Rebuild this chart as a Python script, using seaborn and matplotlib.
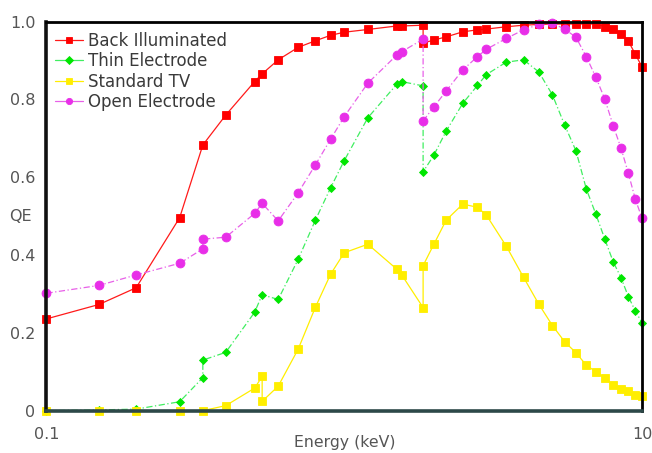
import matplotlib
matplotlib.use("Agg")
import matplotlib.pyplot as plt
import seaborn as sns
import pandas as pd
from matplotlib.ticker import FixedLocator, FixedFormatter, NullLocator

# Quantum efficiency vs photon energy for four CCD types
back_energy = [0.1, 0.15, 0.2, 0.28, 0.335, 0.4, 0.5, 0.53, 0.6, 0.7, 0.8, 0.9, 1.0,
               1.2, 1.5, 1.56, 1.84, 1.84, 2.0, 2.2, 2.5, 2.8, 3.0, 3.5, 4.0, 4.5,
               5.0, 5.5, 6.0, 6.5, 7.0, 7.5, 8.0, 8.5, 9.0, 9.5, 10.0]
back_qe = [0.236, 0.273, 0.316, 0.496, 0.683, 0.760, 0.846, 0.866, 0.902, 0.934, 0.951,
           0.965, 0.973, 0.980, 0.989, 0.989, 0.991, 0.945, 0.953, 0.961, 0.974, 0.979,
           0.981, 0.987, 0.991, 0.993, 0.994, 0.994, 0.994, 0.994, 0.994, 0.987, 0.981,
           0.968, 0.950, 0.916, 0.884]

thin_energy = [0.1, 0.15, 0.2, 0.28, 0.335, 0.335, 0.4, 0.5, 0.53, 0.6, 0.7, 0.8, 0.9,
               1.0, 1.2, 1.5, 1.56, 1.84, 1.84, 2.0, 2.2, 2.5, 2.8, 3.0, 3.5, 4.0, 4.5,
               5.0, 5.5, 6.0, 6.5, 7.0, 7.5, 8.0, 8.5, 9.0, 9.5, 10.0]
thin_qe = [0.0, 0.002, 0.004, 0.023, 0.085, 0.130, 0.150, 0.253, 0.298, 0.286, 0.389,
           0.490, 0.573, 0.643, 0.753, 0.839, 0.846, 0.835, 0.614, 0.657, 0.719, 0.790,
           0.836, 0.864, 0.896, 0.902, 0.871, 0.812, 0.734, 0.668, 0.570, 0.505, 0.441,
           0.383, 0.342, 0.293, 0.256, 0.226]

tv_energy = [0.1, 0.15, 0.2, 0.28, 0.335, 0.4, 0.5, 0.53, 0.53, 0.6, 0.7, 0.8, 0.9,
             1.0, 1.2, 1.5, 1.56, 1.84, 1.84, 2.0, 2.2, 2.5, 2.8, 3.0, 3.5, 4.0, 4.5,
             5.0, 5.5, 6.0, 6.5, 7.0, 7.5, 8.0, 8.5, 9.0, 9.5, 10.0]
tv_qe = [0.0, 0.0, 0.0, 0.0, 0.0, 0.013, 0.058, 0.088, 0.024, 0.063, 0.158, 0.266,
         0.351, 0.406, 0.428, 0.364, 0.349, 0.265, 0.373, 0.428, 0.490, 0.531, 0.523,
         0.503, 0.423, 0.343, 0.274, 0.219, 0.177, 0.149, 0.117, 0.100, 0.083, 0.066,
         0.057, 0.050, 0.041, 0.038]

open_energy = [0.1, 0.15, 0.2, 0.28, 0.335, 0.335, 0.4, 0.5, 0.53, 0.6, 0.7, 0.8, 0.9,
               1.0, 1.2, 1.5, 1.56, 1.84, 1.84, 2.0, 2.2, 2.5, 2.8, 3.0, 3.5, 4.0, 4.5,
               5.0, 5.5, 6.0, 6.5, 7.0, 7.5, 8.0, 8.5, 9.0, 9.5, 10.0]
open_qe = [0.302, 0.322, 0.349, 0.379, 0.416, 0.441, 0.446, 0.507, 0.533, 0.488, 0.560,
           0.632, 0.698, 0.756, 0.842, 0.914, 0.923, 0.955, 0.745, 0.781, 0.822, 0.876,
           0.910, 0.929, 0.957, 0.979, 0.993, 0.996, 0.981, 0.960, 0.910, 0.857, 0.801,
           0.733, 0.675, 0.610, 0.543, 0.495]

series_names = ["Back Illuminated", "Thin Electrode", "Standard TV", "Open Electrode"]
y_tick_values = [0.0, 0.2, 0.4, 0.6, 0.8, 1.0]
y_tick_labels = ["0", "0.2", "0.4", "0.6", "0.8", "1.0"]
x_tick_values = [0.1, 1.0, 10.0]
x_tick_labels = ["0.1", "", "10"]

sns.set_style("white")
plt.rcParams["font.family"] = ["DejaVu Sans"]

fig = plt.figure(figsize=(6.52, 4.53), dpi=100)
ax = fig.add_axes([0.0713, 0.0934, 0.9134, 0.8587])

styles = [
    dict(energy=back_energy, qe=back_qe, line="#ff1a1a", face="#ff0000", marker="s",
         ms=6.0, ls="-", lw=0.9),
    dict(energy=thin_energy, qe=thin_qe, line="#40ee60", face="#00e600", marker="D",
         ms=4.2, ls=(0, (5, 2, 1, 2)), lw=0.9),
    dict(energy=tv_energy, qe=tv_qe, line="#ffee00", face="#ffee00", marker="s",
         ms=5.3, ls="-", lw=0.9),
    dict(energy=open_energy, qe=open_qe, line="#e860e8", face="#e82ee8", marker="o",
         ms=6.4, ls=(0, (5, 2, 1, 2)), lw=0.9),
]

for name, st in zip(series_names, styles):
    df = pd.DataFrame({"Energy": st["energy"], "QE": st["qe"]})
    sns.lineplot(data=df, x="Energy", y="QE", sort=False, estimator=None, ax=ax,
                 color=st["line"], linewidth=st["lw"], linestyle=st["ls"],
                 marker=st["marker"], markersize=st["ms"],
                 markerfacecolor=st["face"], markeredgecolor=st["face"],
                 markeredgewidth=0.6, label=name, clip_on=False)

ax.set_xscale("log")
ax.set_xlim(0.1, 10)
ax.set_ylim(0, 1.0)

ax.xaxis.set_major_locator(FixedLocator(x_tick_values))
ax.xaxis.set_major_formatter(FixedFormatter(x_tick_labels))
ax.xaxis.set_minor_locator(NullLocator())
ax.yaxis.set_major_locator(FixedLocator(y_tick_values))
ax.yaxis.set_major_formatter(FixedFormatter(y_tick_labels))

ax.tick_params(axis="both", which="major", direction="in", length=5, width=1,
               color="#3f7480", labelcolor="#555555", labelsize=11.5)
ax.tick_params(axis="x", pad=12)
ax.tick_params(axis="y", pad=8)

for side in ["top", "right"]:
    ax.spines[side].set_color("#000000")
    ax.spines[side].set_linewidth(2.0)
ax.spines["left"].set_color("#111111")
ax.spines["left"].set_linewidth(2.6)
ax.spines["bottom"].set_color("#2c4848")
ax.spines["bottom"].set_linewidth(2.6)

ax.set_xlabel("Energy (keV)", fontsize=11.3, color="#555555")
ax.xaxis.set_label_coords(0.5, -0.062)
ax.set_ylabel("QE", fontsize=11.5, color="#555555", rotation=0, va="center", ha="center")
ax.yaxis.set_label_coords(-0.044, 0.50)

leg = ax.legend(loc="upper left", bbox_to_anchor=(0.0, 0.996), frameon=False,
                fontsize=12, handlelength=1.7, handletextpad=0.3,
                labelspacing=0.15, borderaxespad=0.2, borderpad=0.3)
for txt in leg.get_texts():
    txt.set_color("#3a3a3a")
for h in leg.legend_handles:
    h.set_markersize(4.5)
    h.set_linestyle("-")

fig.savefig("out.png", dpi=100, facecolor="white")
